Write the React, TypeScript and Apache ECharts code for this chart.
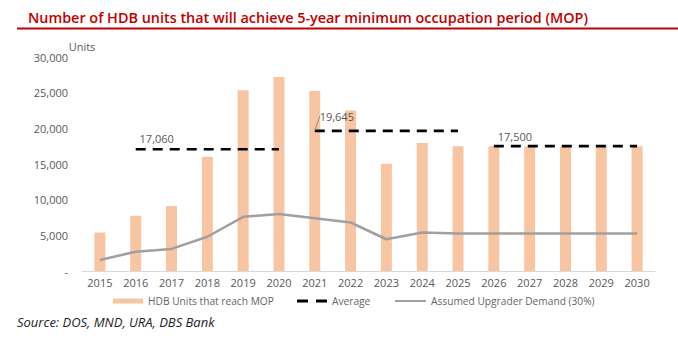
import React, { useEffect, useRef } from "react";
import * as echarts from "echarts";

const years = ["2015","2016","2017","2018","2019","2020","2021","2022","2023","2024","2025","2026","2027","2028","2029","2030"];
const mopUnits = [5400, 7750, 9100, 16000, 25350, 27200, 25250, 22500, 15050, 17950, 17500, 17500, 17500, 17500, 17500, 17500];
const upgraderDemand = [1550, 2700, 3100, 4800, 7600, 8000, 7400, 6800, 4450, 5400, 5250, 5250, 5250, 5250, 5250, 5250];
const avgStart = ["2016", "2021", "2026"];
const avgEnd = ["2020", "2025", "2030"];
const avgValues = [17060, 19645, 17500];
const yTicks = [0, 5000, 10000, 15000, 20000, 25000, 30000];

const TITLE = "Number of HDB units that will achieve 5-year minimum occupation period (MOP)";
const SOURCE = "Source: DOS, MND, URA, DBS Bank";
const FONT = "'Open Sans', sans-serif";
const S_BAR = "HDB Units that reach MOP";
const S_AVG = "Average";
const S_UPG = "Assumed Upgrader Demand (30%)";

export default function App() {
  const ref = useRef<HTMLDivElement>(null);
  useEffect(() => {
    document.body.style.margin = "0";
    const chart = echarts.init(ref.current!, null, { renderer: "svg" });
    const labelOffsets: any[] = [
      { offset: [21, 0] },
      { offset: [0, 0] },
      { offset: [21, 1] },
    ];
    const avgSeries = avgValues.map((v, k) => {
      const s = years.indexOf(avgStart[k]);
      const e = years.indexOf(avgEnd[k]);
      const data = years.map((_, i) => {
        if (i < s || i > e) return null;
        if (i === s) {
          const lab: any = {
            show: true,
            position: "top",
            distance: 5,
            color: "#595959",
            fontSize: 11,
            fontFamily: FONT,
            formatter: () => v.toLocaleString("en-US"),
            ...labelOffsets[k],
          };
          const item: any = { value: v, label: lab };
          if (k === 1) {
            item.labelLine = { show: true, lineStyle: { color: "#8c8c8c", width: 1 } };
          }
          return item;
        }
        return v;
      });
      return {
        name: S_AVG,
        type: "line",
        data,
        symbol: "circle",
        symbolSize: 0,
        showSymbol: true,
        connectNulls: false,
        lineStyle: { color: "#000", width: 2.6, type: [10, 7] },
        itemStyle: { color: "#000" },
        labelLayout: k === 1 ? { dx: 22, dy: -4 } : undefined,
        z: 5,
      };
    });
    const legendText = { color: "#666666", fontSize: 10.2, fontFamily: FONT };
    chart.setOption({
      animation: false,
      textStyle: { fontFamily: FONT },
      graphic: [
        {
          type: "text",
          left: 28,
          top: 10,
          style: { text: TITLE, fill: "#C00000", font: `600 14.4px ${FONT}` },
        },
        {
          type: "line",
          shape: { x1: 17, y1: 28.5, x2: 678, y2: 28.5 },
          style: { stroke: "#C00000", lineWidth: 2 },
        },
        {
          type: "text",
          left: 17,
          top: 315,
          style: { text: SOURCE, fill: "#222", font: `italic 13px ${FONT}` },
        },
      ],
      grid: { left: 82, right: 23, top: 57, bottom: 79 },
      legend: [
        {
          left: 108,
          top: 291,
          itemWidth: 30,
          itemHeight: 5,
          textStyle: legendText,
          data: [{ name: S_BAR, icon: "rect" }],
        },
        {
          left: 292,
          top: 291,
          itemWidth: 30,
          itemHeight: 3,
          textStyle: legendText,
          data: [{ name: S_AVG, icon: "path://M0,0H11V3H0Z M19,0H30V3H19Z" }],
        },
        {
          left: 390,
          top: 291,
          itemWidth: 31,
          itemHeight: 2,
          textStyle: legendText,
          data: [{ name: S_UPG, icon: "rect" }],
        },
      ],
      xAxis: {
        type: "category",
        data: years,
        axisLine: { lineStyle: { color: "#d9d9d9", width: 1 } },
        axisTick: { show: false },
        axisLabel: { color: "#595959", fontSize: 11, margin: 6, fontFamily: FONT },
      },
      yAxis: {
        type: "value",
        min: yTicks[0],
        max: yTicks[yTicks.length - 1],
        interval: 5000,
        name: "Units",
        nameLocation: "end",
        nameGap: -11,
        nameTextStyle: { color: "#595959", fontSize: 11, fontFamily: FONT },
        axisLine: { show: false },
        axisTick: { show: false },
        splitLine: { show: false },
        axisLabel: {
          color: "#595959",
          fontSize: 11,
          margin: 14,
          fontFamily: FONT,
          formatter: (v: number) => (v === 0 ? "-" : v.toLocaleString("en-US")),
        },
      },
      series: [
        {
          name: S_BAR,
          type: "bar",
          data: mopUnits,
          barWidth: 11,
          itemStyle: { color: "#F8C5A3" },
        },
        ...avgSeries,
        {
          name: S_UPG,
          type: "line",
          data: upgraderDemand,
          symbol: "none",
          lineStyle: { color: "#A0A0A0", width: 2.5 },
          itemStyle: { color: "#A0A0A0" },
          z: 4,
        },
      ],
    });
    return () => chart.dispose();
  }, []);
  return <div ref={ref} style={{ width: 678, height: 350 }} />;
}
